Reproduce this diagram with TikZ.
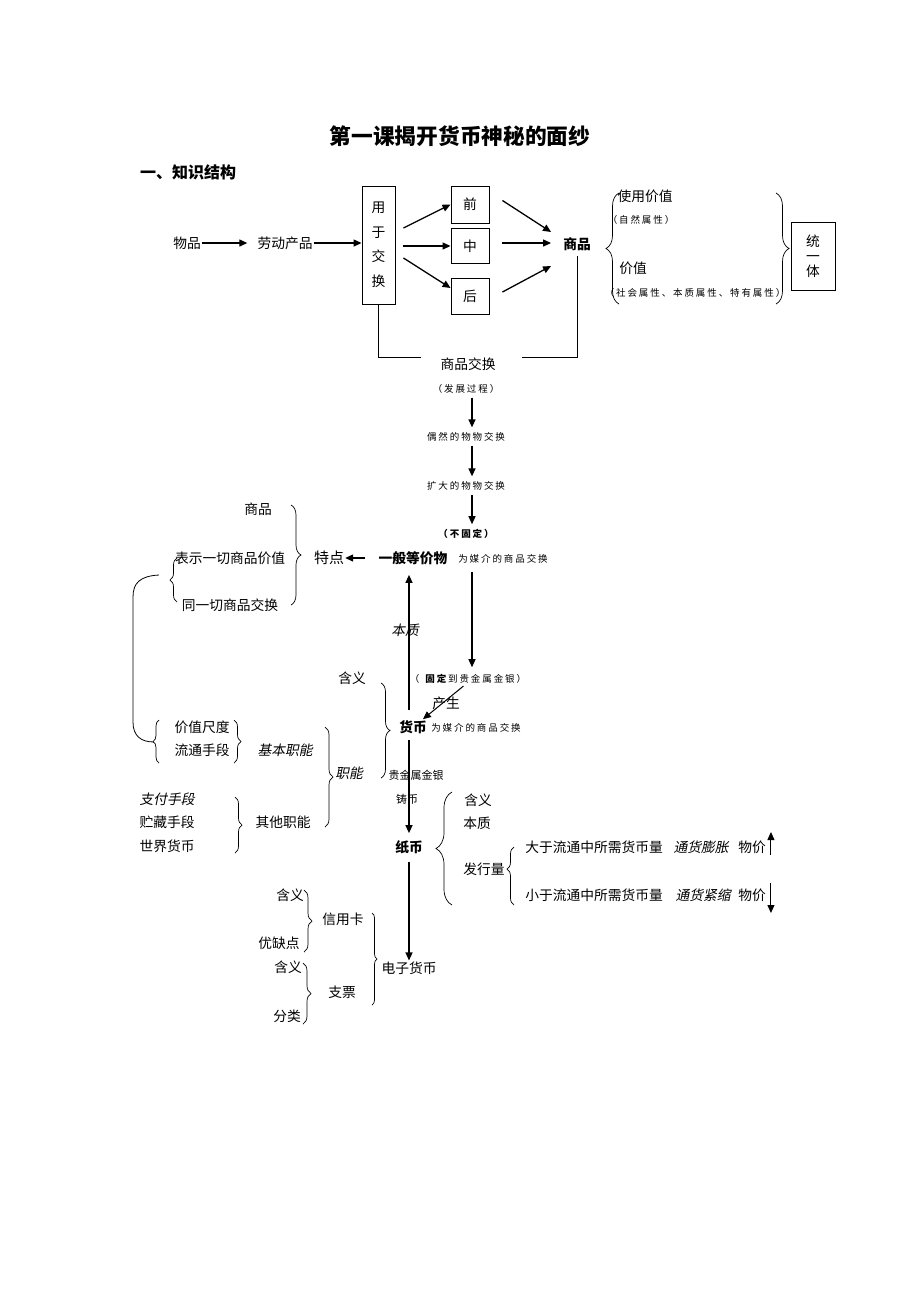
\documentclass[tikz,border=0pt]{standalone}
\usepackage{fontspec}
\setmainfont{Noto Sans CJK SC}[AutoFakeSlant=0.2]
\newfontfamily\spacedfont{Noto Sans CJK SC}[LetterSpace=20]
\newcommand{\smtxt}{\spacedfont\fontsize{9.5}{11}\selectfont}
\usetikzlibrary{arrows.meta, calc, decorations.pathreplacing}

\begin{document}
\begin{tikzpicture}[x=1pt, y=-1pt,
  txt/.style={inner sep=1pt, font=\fontsize{13.75}{16}\selectfont},
  bld/.style={inner sep=1pt, font=\fontsize{13.75}{16}\selectfont\bfseries},
  itl/.style={inner sep=1pt, font=\fontsize{13.75}{16}\selectfont\itshape},
  sml/.style={inner sep=1pt, font=\smtxt},
  bx/.style={draw, line width=0.9pt, inner sep=0pt, align=center},
  arr/.style={-{Triangle[length=8pt,width=7pt]}, line width=1.3pt},
  brc/.style={decorate, decoration={brace, amplitude=#1}, line width=0.7pt},
  brc/.default=8]

\useasboundingbox (0,0) rectangle (920,1302);

\node[font=\fontsize{21.7}{24}\selectfont\bfseries] (title) at (460,136) {第一课揭开货币神秘的面纱};
\node[font=\fontsize{16}{18}\selectfont\bfseries, anchor=west, inner sep=0pt] (head) at (140,172) {一、知识结构};

\node[txt] (wp) at (187,243) {物品};
\node[txt] (ldcp) at (285,243) {劳动产品};
\node[bx, minimum width=33pt, minimum height=118pt, font=\fontsize{13.75}{24.5}\selectfont] (yyjh) at (378.5,245) {用\\于\\交\\换};
\node[txt, bx, minimum width=38pt, minimum height=37pt] (q) at (470,204.5) {前};
\node[txt, bx, minimum width=38pt, minimum height=35pt] (z) at (470,246) {中};
\node[txt, bx, minimum width=38pt, minimum height=36pt] (h) at (470,296) {后};
\node[bld] (sp) at (577,244) {商品};

\draw[arr, shorten >=9pt] (wp) -- (ldcp);
\draw[arr] (ldcp.east) -- (ldcp.east -| yyjh.west);
\draw[arr] ($(yyjh.east)+(8,-17)$) -- (q.west);
\draw[arr] ($(yyjh.east)+(8,1)$) -- (z.west);
\draw[arr] ($(yyjh.east)+(8,13)$) -- ($(h.west)+(0,-8)$);
\draw[arr] ($(q.east)+(13,-4)$) -- ($(sp.west)+(-11,-12)$);
\draw[arr] ($(z.east)+(13,-3)$) -- ($(sp.west)+(-11,-1)$);
\draw[arr] ($(h.east)+(13,-4)$) -- ($(sp.west)+(-11,22)$);

\node[txt] (spjh) at (468,364) {商品交换};
\node[sml] (fzgc) at (466,389) {（发展过程）};
\draw[line width=0.9pt] (yyjh.south) |- ($(spjh.west)+(-18,-7)$);
\draw[line width=0.9pt] ($(sp.south)+(0,4)$) |- ($(spjh.east)+(25,-7)$);

\node[txt] (syjz) at (645,196) {使用价值};
\node[sml] (zrsx) at (641,220) {（自然属性）};
\node[txt] (jz) at (633,268) {价值};
\node[sml] (shsx) at (695,293) {（社会属性、本质属性、特有属性）};
\draw[brc=13] (619,304) -- (619,193);
\draw[brc=13] (776,193) -- (776,304);
\node[txt, bx, minimum width=44pt, minimum height=68pt, font=\fontsize{13.75}{15}\selectfont] (tyt) at (813,256) {统\\一\\体};

\node[sml] (ourw) at (466,437) {偶然的物物交换};
\node[sml] (kdwu) at (466,486) {扩大的物物交换};
\node[sml, font=\smtxt\bfseries] (bgd) at (466,534) {（不固定）};
\draw[arr, shorten <=3pt, shorten >=4pt] ([xshift=6pt]fzgc.south) -- ([xshift=6pt]ourw.north);
\draw[arr, shorten <=3pt, shorten >=4pt] ([xshift=6pt]ourw.south) -- ([xshift=6pt]kdwu.north);
\draw[arr, shorten <=3pt, shorten >=4pt] ([xshift=6pt]kdwu.south) -- ([xshift=6pt]bgd.north);

\node[bld] (ybdj) at (413,558) {一般等价物};
\node[sml] (wmj1) at (503,559) {为媒介的商品交换};
\node[txt, font=\fontsize{15}{17}\selectfont] (td) at (329,558) {特点};
\draw[arr, shorten <=12pt] (ybdj.west) -- (td.east);

\node[txt] (sp2) at (258,509) {商品};
\node[txt] (bsyq) at (230,558) {表示一切商品价值};
\node[txt] (tyqj) at (230,605) {同一切商品交换};
\draw[brc=10] (291,505) -- (291,605);
\draw[brc=7] (177,602) -- (177,558);
\draw[line width=0.8pt] (159,575) .. controls (140,576) and (133,583) .. (133,597) -- (133,722) .. controls (133,736) and (141,742) .. (154,742);

\node[itl] (bz) at (405,630) {本质};
\node[sml] (gdjy) at (468,679) {（ \textbf{固定}到贵金属金银）};
\node[txt] (cs) at (446,703) {产生};
\node[txt] (hy1) at (352,678) {含义};
\node[bld] (hb) at (413,727) {货币};
\node[sml] (wmj2) at (476,728) {为媒介的商品交换};
\coordinate (dn) at ([xshift=4pt]gdjy.north);
\draw[arr] ([xshift=-4pt,yshift=9pt]hb.north) -- ([xshift=-4pt,yshift=-9pt]ybdj.south);
\draw[arr, shorten <=7pt, shorten >=6pt] (dn |- wmj1.south) -- (dn);
\draw[arr, line width=1pt, shorten <=2pt] ([xshift=-3pt]gdjy.south) -- ([xshift=-5pt]hb.north east);

\node[itl] (zn) at (349,773) {职能};
\draw[brc=9] (381,683) -- (381,778);
\draw[brc=8] (325,727) -- (325,827);
\node[itl] (jbzn) at (285,750) {基本职能};
\node[txt] (qtzn) at (283,822) {其他职能};
\node[txt] (jzcd) at (202,727) {价值尺度};
\node[txt] (ltsd) at (202,750) {流通手段};
\draw[brc=6] (159,763) -- (159,720);
\draw[brc=7] (234,720) -- (234,763);
\node[itl] (zfsd) at (167,799) {支付手段};
\node[txt] (zcsd) at (167,822) {贮藏手段};
\node[txt] (sjhb) at (167,846) {世界货币};
\draw[brc=7] (235,797) -- (235,853);

\node[font=\fontsize{11}{13}\selectfont, inner sep=1pt] (gjs) at (416,775) {贵金属金银};
\node[font=\fontsize{11}{13}\selectfont, inner sep=1pt] (zb) at (407,799) {铸币};
\node[bld] (zhb) at (409,847) {纸币};
\draw[arr, shorten <=5pt, shorten >=6pt] (zhb.north |- hb.south) -- (zhb.north);

\draw[brc=16] (452,905) -- (452,792);
\node[txt] (hy2) at (478,800) {含义};
\node[txt] (bz2) at (477,823) {本质};
\node[txt] (fxl) at (484,869) {发行量};
\draw[brc=7, decoration={aspect=0.62}] (514,905) -- (514,847);
\node[txt] (dy) at (594,847) {大于流通中所需货币量};
\node[itl] (thpz) at (701,847) {通货膨胀};
\node[txt] (wj1) at (752,847) {物价};
\node[txt] (xy) at (594,895) {小于流通中所需货币量};
\node[itl] (thjs) at (703,895) {通货紧缩};
\node[txt] (wj2) at (752,895) {物价};
\draw[arr, line width=1pt] ($(wj1.east)+(4,8)$) -- ($(wj1.east)+(4,-15)$);
\draw[arr, line width=1pt] ($(wj2.east)+(4,-12)$) -- ($(wj2.east)+(4,18)$);

\node[txt] (dzhb) at (409,968) {电子货币};
\draw[arr, shorten <=7pt] (zhb.south) -- (dzhb.north);
\node[txt] (xyk) at (343,919) {信用卡};
\node[txt] (zp) at (342,992) {支票};
\draw[brc=5] (372,913) -- (372,1005);
\node[txt] (hy3) at (290,895) {含义};
\node[txt] (yqd) at (279,943) {优缺点};
\draw[brc=8] (304,890) -- (304,952);
\node[txt] (hy4) at (288,967) {含义};
\node[txt] (fl) at (287,1016) {分类};
\draw[brc=8] (303,963) -- (303,1024);

\end{tikzpicture}
\end{document}
